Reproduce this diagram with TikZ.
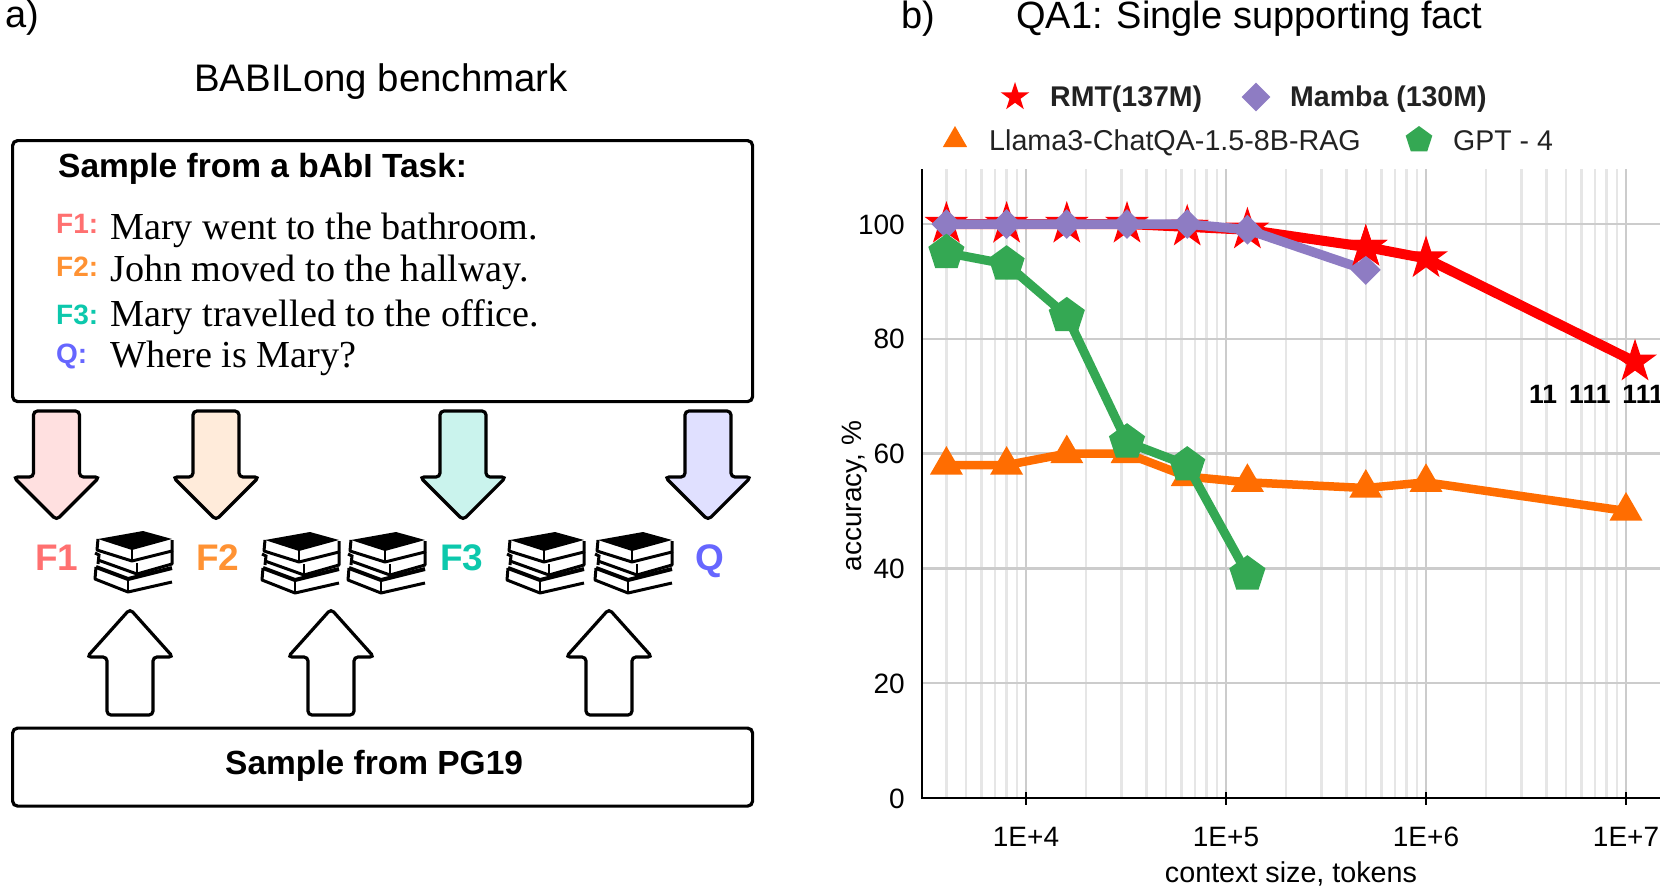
\documentclass[tikz,border=0pt]{standalone}
\usepackage{fontspec}
\setmainfont{Liberation Sans}
\newfontfamily\tmsfont{Liberation Serif}
\usetikzlibrary{shapes.geometric}

\newcommand{\fsz}[1]{\fontsize{#1}{#1}\selectfont}

\definecolor{cfa}{HTML}{FF7070}
\definecolor{cfb}{HTML}{FF9233}
\definecolor{cfc}{HTML}{0CC8AC}
\definecolor{cfq}{HTML}{6666FF}
\definecolor{crmt}{HTML}{FF0000}
\definecolor{cmam}{HTML}{8E7CC3}
\definecolor{clla}{HTML}{FF6D01}
\definecolor{cgpt}{HTML}{34A853}
\definecolor{cgrid}{HTML}{CCCCCC}
\definecolor{cgridm}{HTML}{E6E6E6}
\definecolor{ctxt}{HTML}{222222}

\tikzset{
  lab/.style={inner sep=0,anchor=base west,font=\fsz{#1}},
  labb/.style={inner sep=0,anchor=base west,font=\bfseries\fsz{#1}},
  snt/.style={inner sep=0,anchor=base west,font=\tmsfont\fsz{38.2}},
  panel/.style={draw,line width=3.2pt,rounded corners=5pt,inner sep=0,anchor=north west,minimum width=740pt},
  starm/.style={star,star points=5,star point ratio=2.6,fill=crmt,inner sep=0,minimum size=#1},
  diam/.style={diamond,fill=cmam,inner sep=0,minimum width=#1,minimum height=#1},
  trim/.style={regular polygon,regular polygon sides=3,fill=clla,inner sep=0,minimum size=#1},
  penm/.style={regular polygon,regular polygon sides=5,fill=cgpt,inner sep=0,minimum size=#1},
  serie/.style={draw=#1,line width=9pt,line join=round},
  blockdown/.pic={
    \draw[line width=3.2pt,fill=#1,rounded corners=4pt] (-23,0) -- (23,0) -- (23,66) -- (43,66) -- (0,109) -- (-43,66) -- (-23,66) -- cycle;
  },
  blockup/.pic={
    \draw[line width=3.2pt,fill=white,rounded corners=4pt] (-23,103) -- (23,103) -- (23,45) -- (43,45) -- (0,-3) -- (-43,45) -- (-23,45) -- cycle;
  },
  books/.pic={
    \fill (3,8) -- (48,0) -- (77,8) -- (37,19) -- cycle;
    \draw[line width=3pt,line join=round] (3,8) -- (2,19) -- (37,30) -- (77,20) -- (77,9);
    \draw[line width=2.6pt] (37,18) -- (37,29);
    \draw[line width=3pt] (0,22) -- (4,24) -- (3,33);
    \draw[line width=3pt,line join=round] (3,29) -- (42,43) -- (77,33) -- (77,20);
    \draw[line width=2.6pt] (42,32) -- (42,43);
    \draw[line width=4pt,line join=round] (1,36) -- (33,48) -- (77,37);
    \draw[line width=3pt,line join=round] (1,36) -- (0,48) -- (33,61) -- (77,51);
    \draw[line width=2.6pt] (33,47) -- (33,61);
  },
}

\begin{document}
\begin{tikzpicture}[x=1pt,y=-1pt,
  declare function={xp(\e)=1026+200*(\e-4); yp(\a)=798-5.74*\a;}]
\useasboundingbox (0,0) rectangle (1660,887);

% left panel
\node[lab=38] (tla) at (5,27) {a)};
\node[lab=38.4] (tbm) at (194,91) {BABILong benchmark};

\node[panel,minimum height=261pt] (task) at (11,139) {};
\node[panel,minimum height=78pt] (pg) at (11,726.5) {};

\node[labb=33.5] (smp) at (58,177) {Sample from a bAbI Task:};
\node[labb=28,text=cfa] (fa) at (56,233) {F1:};
\node[labb=28,text=cfb] (fb) at (56,276) {F2:};
\node[labb=28,text=cfc] (fc) at (56,324) {F3:};
\node[labb=28,text=cfq] (fq) at (56,363) {Q:};
\node[snt] (sa) at (110,239) {Mary went to the bathroom.};
\node[snt] (sb) at (110,281) {John moved to the hallway.};
\node[snt] (sc) at (110,326) {Mary travelled to the office.};
\node[snt] (sq) at (110,367) {Where is Mary?};

\node[labb=33.5] (spg) at (225,774) {Sample from PG19};

\pic at (56.5,411) {blockdown=cfa!22};
\pic at (216,411) {blockdown=cfb!18};
\pic at (463,411) {blockdown=cfc!22};
\pic at (708,411) {blockdown=cfq!20};

\node[labb=37,text=cfa] (ka) at (35,570) {F1};
\node[labb=37,text=cfb] (kb) at (196,570) {F2};
\node[labb=37,text=cfc] (kc) at (440,570) {F3};
\node[labb=37,text=cfq] (kq) at (695,570) {Q};

\pic at (95,531) {books};
\pic at (262,532) {books};
\pic at (348,532) {books};
\pic at (507,532) {books};
\pic at (595,532) {books};

\pic at (130,612) {blockup};
\pic at (331,612) {blockup};
\pic at (609,612) {blockup};

% right panel
\node[lab=38] (tlb) at (901,28) {b)};
\node[lab=38] (tqa) at (1016,28) {QA1: Single supporting fact};

\node[starm=30pt] (lr) at (1015,97) {};
\node[diam=29pt] (lm) at (1256,97) {};
\node[trim=28pt] (ll) at (955,140) {};
\node[penm=28pt] (lg) at (1419,140) {};
\node[labb=28.5,text=ctxt] (tr) at (1050,106) {RMT(137M)};
\node[labb=28.5,text=ctxt] (tm) at (1290,106) {Mamba (130M)};
\node[lab=28.7,text=ctxt] (tl) at (989,150) {Llama3-ChatQA-1.5-8B-RAG};
\node[lab=28.5,text=ctxt] (tg) at (1453,150) {GPT - 4};

% grid
\begin{scope}
\clip (922,169) rectangle (1660,798);
\foreach \d in {3,...,7}
  \foreach \n in {2,...,9}
    \draw[cgridm,line width=2.4pt] ({xp(\d+log10(\n))},169) -- ({xp(\d+log10(\n))},798);
\foreach \d in {4,...,7}
  \draw[cgrid,line width=2.4pt] ({xp(\d)},169) -- ({xp(\d)},798);
\foreach \a in {20,40,...,100}
  \draw[cgrid,line width=2.4pt] (922,{yp(\a)}) -- (1660,{yp(\a)});
\end{scope}

% axes
\coordinate (ot) at (922,169);
\coordinate (oo) at (922,798);
\coordinate (oe) at (1660,798);
\draw[line width=2.6pt] (ot) -- (oo) -- (oe);
\foreach \d in {4,...,7} {
  \draw[line width=2.4pt] ({xp(\d)},792) -- ({xp(\d)},805);
  \node[lab=28,anchor=base] (xl\d) at ({xp(\d)},846) {1E+\d};
}
\foreach \a in {0,20,...,100}
  \node[lab=28,anchor=base east] (yl\a) at (905,{yp(\a)+10}) {\a};
\node[lab=28.7,anchor=base] (xt) at (1291,882) {context size, tokens};
\node[lab=28,anchor=base,rotate=90] (yt) at (861,496) {accuracy, \%};

% series
\foreach \e/\a [count=\i] in {3.602/100,3.903/100,4.204/100,4.505/100,4.806/99.5,5.107/99,5.699/96,6/94,7.045/76}
  \node[starm=46pt] (r\i) at ({xp(\e)},{yp(\a)}) {};
\draw[serie=crmt,line width=10pt] (r1.center) foreach \i in {2,...,9} {-- (r\i.center)};

\foreach \e/\a [count=\i] in {3.602/100,3.903/100,4.204/100,4.505/100,4.806/100,5.107/99,5.699/92}
  \node[diam=30pt] (m\i) at ({xp(\e)},{yp(\a)}) {};
\draw[serie=cmam,line width=9.5pt] (m1.center) foreach \i in {2,...,7} {-- (m\i.center)};
\node[starm=46pt] (r7b) at (r7) {};

\foreach \e/\a [count=\i] in {3.602/58,3.903/58,4.204/60,4.505/60,4.806/56,5.107/55,5.699/54,6/55,7/50}
  \node[trim=38pt] (l\i) at ({xp(\e)},{yp(\a)}) {};
\draw[serie=clla,line width=8.5pt] (l1.center) foreach \i in {2,...,9} {-- (l\i.center)};

\foreach \e/\a [count=\i] in {3.602/95,3.903/93,4.204/84,4.505/62,4.806/58,5.107/39}
  \node[penm=38pt] (g\i) at ({xp(\e)},{yp(\a)}) {};
\draw[serie=cgpt] (g1.center) foreach \i in {2,...,6} {-- (g\i.center)};

\node[labb=26.5] (cnt) at (1529,403) {\spaceskip=12pt 11 111 111};

\end{tikzpicture}
\end{document}
